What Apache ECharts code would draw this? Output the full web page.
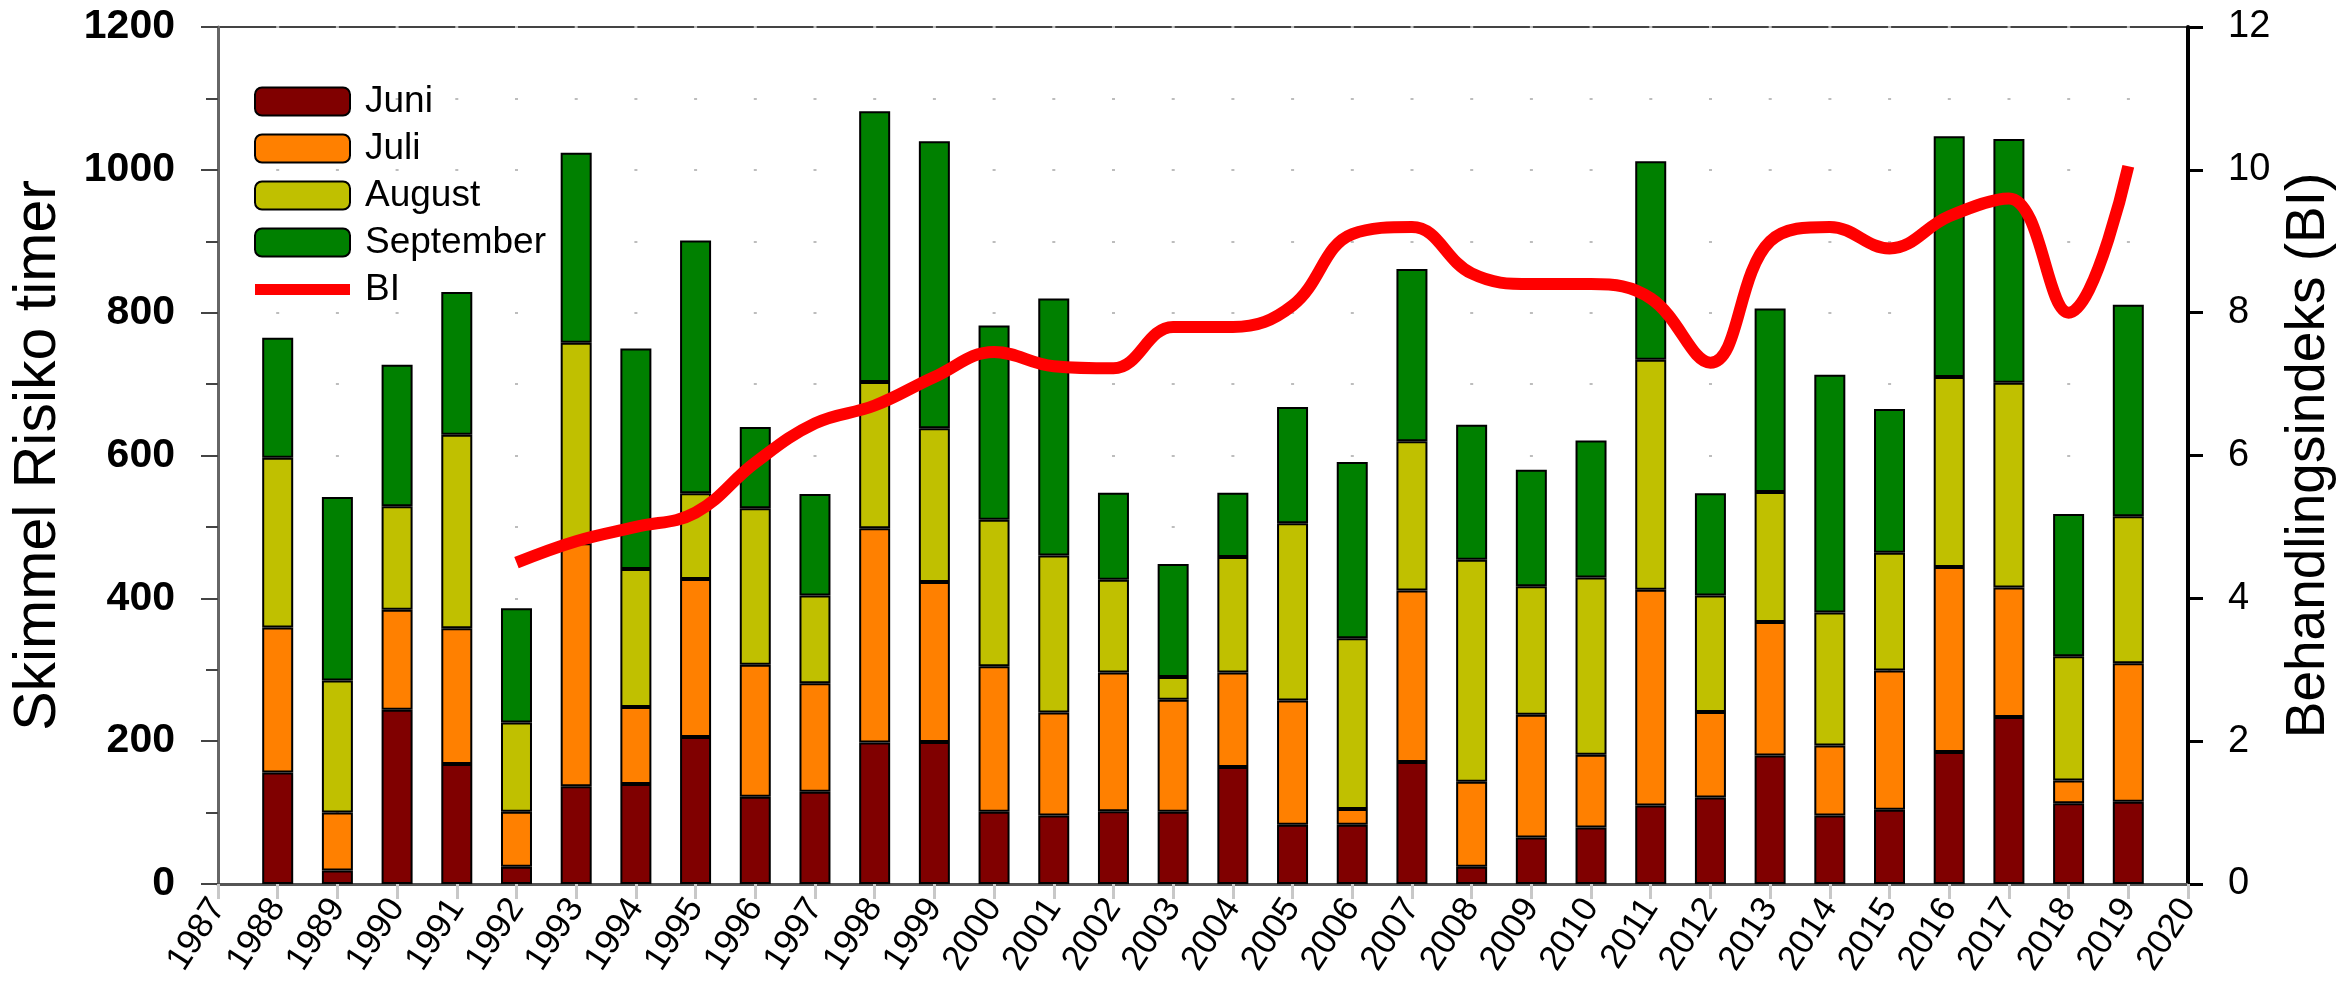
<!DOCTYPE html>
<html>
<head>
<meta charset="utf-8">
<script src="https://cdn.jsdelivr.net/npm/echarts@6/dist/echarts.min.js"></script>
<style>
html,body{margin:0;padding:0;background:#fff}
#chart{width:2349px;height:1004px}
</style>
</head>
<body>
<div id="chart"></div>
<script>
// risiko-timer per maaned (stablet) og behandlingsindeks
var axisYears = ['1987','1988','1989','1990','1991','1992','1993','1994','1995','1996','1997','1998',
                 '1999','2000','2001','2002','2003','2004','2005','2006','2007','2008','2009','2010',
                 '2011','2012','2013','2014','2015','2016','2017','2018','2019','2020'];
var years = ['1988','1989','1990','1991','1992','1993','1994','1995','1996','1997','1998','1999',
             '2000','2001','2002','2003','2004','2005','2006','2007','2008','2009','2010','2011',
             '2012','2013','2014','2015','2016','2017','2018','2019'];
var juni = [156,19,244,168,24,137,140,206,122,129,198,199,101,96,102,101,
            164,83,83,171,24,65,79,110,121,180,96,104,185,234,113,115];
var juli = [203,81,140,190,77,340,108,221,185,152,300,224,204,144,194,157,
            132,174,22,240,119,172,102,302,120,187,98,195,259,181,32,194];
var august = [238,185,145,271,125,281,193,120,219,123,205,215,205,220,130,32,
              162,248,239,209,311,180,248,322,163,182,186,165,266,287,174,206];
var september = [168,257,198,200,160,266,309,354,114,142,379,402,272,360,122,158,
                 90,163,247,241,189,163,192,278,143,257,333,201,337,341,199,296];
var biYears = ['1992','1993','1994','1995','1996','1997','1998','1999','2000','2001','2002','2003',
               '2004','2005','2006','2007','2008','2009','2010','2011','2012','2013','2014','2015',
               '2016','2017','2018','2019'];
var bi = [4.5,4.8,5.0,5.2,5.9,6.45,6.7,7.1,7.45,7.25,7.22,7.8,7.8,8.1,
          9.1,9.2,8.55,8.4,8.4,8.2,7.3,9.0,9.2,8.9,9.35,9.6,8.0,10.05];

function pairs(xs, vs) {
    var res = [];
    for (var i = 0; i < xs.length; i++) {
        res.push([xs[i], vs[i]]);
    }
    return res;
}

function barSeries(name, vals, color) {
    return {
        name: name,
        type: 'bar',
        stack: 'risiko',
        barWidth: 31,
        data: pairs(years, vals),
        itemStyle: {
            color: color,
            borderColor: '#000',
            borderWidth: 2
        }
    };
}

function plain(v) { return String(v); }

var font = "'Liberation Sans', Arial, sans-serif";
var gridDash = {color: '#bdbdbd', width: 2, type: [3, 56.7], dashOffset: 1.5};

var myChart = echarts.init(document.getElementById('chart'));
var option = {
    animation: false,
    textStyle: {fontFamily: font},
    grid: {
        left: 218, right: 161, top: 27, bottom: 120,
        show: true, borderColor: '#444', borderWidth: 2
    },
    legend: {
        orient: 'vertical',
        left: 249,
        top: 78,
        itemWidth: 95,
        itemHeight: 28,
        itemGap: 10,
        symbolKeepAspect: true,
        textStyle: {fontSize: 37, color: '#000', fontFamily: font, padding: [0, 0, 0, 10]},
        data: ['Juni', 'Juli', 'August', 'September',
               {name: 'BI', icon: 'path://M0,0 L95,0 L95,11 L0,11 Z'}]
    },
    xAxis: [
        {
            type: 'category',
            data: axisYears,
            boundaryGap: false,
            position: 'bottom',
            axisLine: {show: true, lineStyle: {color: '#555', width: 3}},
            axisTick: {show: true, interval: 0, length: 14, lineStyle: {color: '#222', width: 2}},
            axisLabel: {interval: 0, rotate: 57, fontSize: 35, color: '#000', margin: 18},
            splitLine: {show: false}
        },
        {
            type: 'category',
            data: axisYears,
            boundaryGap: false,
            position: 'top',
            axisLine: {show: false},
            axisTick: {show: true, interval: 0, inside: true, length: 15, lineStyle: {color: '#c8c8c8', width: 3}},
            axisLabel: {show: false},
            splitLine: {show: false}
        }
    ],
    yAxis: [
        {
            type: 'value',
            min: 0, max: 1200, interval: 200,
            position: 'left',
            name: 'Skimmel Risiko timer',
            nameLocation: 'middle',
            nameGap: 150,
            nameRotate: 90,
            nameTextStyle: {fontSize: 59, color: '#000'},
            axisLine: {show: true, lineStyle: {color: '#666', width: 3}},
            axisTick: {show: true, length: 17, lineStyle: {color: '#444', width: 2}},
            minorTick: {show: true, splitNumber: 2, length: 12, lineStyle: {color: '#444', width: 2}},
            axisLabel: {fontSize: 41, fontWeight: 'bold', color: '#000', margin: 43, formatter: plain},
            splitLine: {show: true, lineStyle: gridDash},
            minorSplitLine: {show: true, lineStyle: gridDash}
        },
        {
            type: 'value',
            min: 0, max: 12, interval: 2,
            position: 'right',
            name: 'Behandlingsindeks (BI)',
            nameLocation: 'middle',
            nameGap: 62,
            nameRotate: 90,
            nameTextStyle: {fontSize: 55, color: '#000'},
            axisLine: {show: true, lineStyle: {color: '#000', width: 4}},
            axisTick: {show: true, length: 15, lineStyle: {color: '#000', width: 3}},
            axisLabel: {fontSize: 38, color: '#000', margin: 40, formatter: plain},
            splitLine: {show: false}
        }
    ],
    series: [
        barSeries('Juni', juni, '#800000'),
        barSeries('Juli', juli, '#ff8000'),
        barSeries('August', august, '#c0c000'),
        barSeries('September', september, '#008000'),
        {
            name: 'BI',
            type: 'line',
            yAxisIndex: 1,
            smooth: 0.4,
            symbol: 'none',
            showSymbol: false,
            data: pairs(biYears, bi),
            lineStyle: {color: '#ff0000', width: 12},
            itemStyle: {color: '#ff0000'},
            z: 5
        }
    ]
};
myChart.setOption(option);
</script>
</body>
</html>
